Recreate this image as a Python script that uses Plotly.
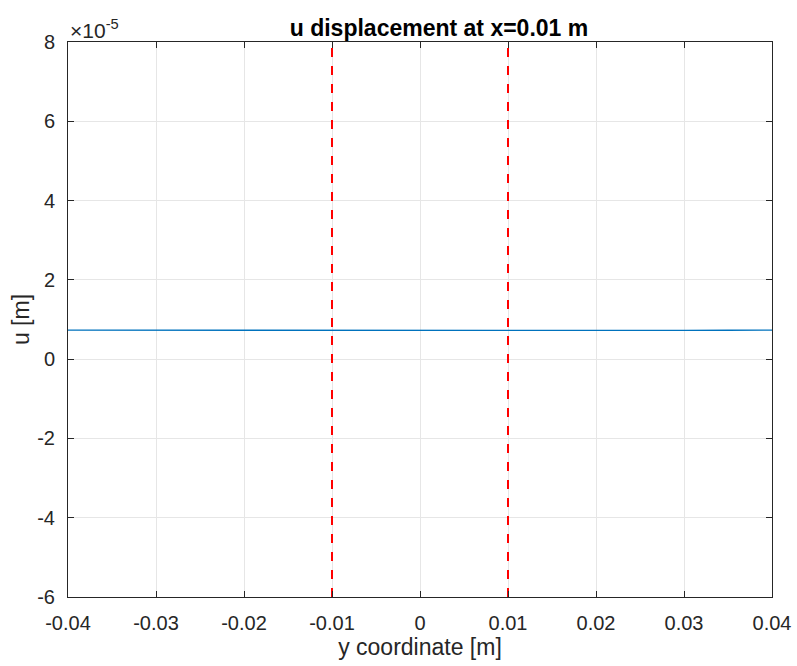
import plotly.graph_objects as go

y_coord = [-0.04, -0.035, -0.03, -0.025, -0.02, -0.015, -0.01, -0.005, 0.0,
           0.005, 0.01, 0.015, 0.02, 0.025, 0.03, 0.035, 0.04]
u_disp = [7.30e-6, 7.29e-6, 7.27e-6, 7.25e-6, 7.23e-6, 7.21e-6, 7.19e-6, 7.18e-6, 7.18e-6,
          7.18e-6, 7.19e-6, 7.21e-6, 7.23e-6, 7.25e-6, 7.27e-6, 7.29e-6, 7.30e-6]
boundaries = [-0.01, 0.01]
x_ticks = [-0.04, -0.03, -0.02, -0.01, 0, 0.01, 0.02, 0.03, 0.04]
x_tick_labels = ["-0.04", "-0.03", "-0.02", "-0.01", "0", "0.01", "0.02", "0.03", "0.04"]
y_ticks = [-6e-5, -4e-5, -2e-5, 0, 2e-5, 4e-5, 6e-5, 8e-5]
y_tick_labels = ["-6", "-4", "-2", "0", "2", "4", "6", "8"]

font = "Liberation Sans, Arial, Helvetica, sans-serif"

fig = go.Figure()
fig.add_trace(go.Scatter(x=y_coord, y=u_disp, mode="lines",
                         line=dict(color="#0072BD", width=1.3), showlegend=False))
for b in boundaries:
    fig.add_trace(go.Scatter(x=[b, b], y=[-6e-5, 8e-5], mode="lines",
                             line=dict(color="#FF0000", width=2, dash="dash"), showlegend=False))

axis_common = dict(showline=True, linecolor="#262626", linewidth=1, mirror="ticks",
                   ticks="inside", ticklen=6, tickcolor="#262626",
                   showgrid=True, gridcolor="#E6E6E6", gridwidth=1, zeroline=False,
                   automargin=False,
                   tickfont=dict(family=font, size=20, color="#262626"))

fig.update_layout(
    width=797, height=666,
    margin=dict(l=68, r=25, t=42, b=69, autoexpand=False),
    paper_bgcolor="white", plot_bgcolor="white",
    title=dict(text="<b>u displacement at x=0.01 m</b>", x=(267 + 573) / 2 / 797, xanchor="center",
               y=1 - 28 / 666, yanchor="middle",
               xref="paper", font=dict(family=font, size=23, color="black")),
    xaxis=dict(range=[-0.04, 0.04], tickvals=x_ticks, ticktext=x_tick_labels,
               ticklabelstandoff=8,
               title=dict(text="y coordinate [m]", font=dict(family=font, size=23, color="#262626"), standoff=5),
               **axis_common),
    yaxis=dict(range=[-6e-5, 8e-5], tickvals=y_ticks, ticktext=y_tick_labels,
               ticklabelstandoff=8,
               title=dict(text="u [m]", font=dict(family=font, size=23, color="#262626"), standoff=1),
               **axis_common),
    annotations=[dict(text="×10<sup>-5</sup>", xref="paper", yref="paper", x=0.0, y=1.0,
                      xanchor="left", yanchor="bottom", showarrow=False, yshift=-2,
                      font=dict(family=font, size=21, color="#262626"))],
)

fig.write_html("out.html")
